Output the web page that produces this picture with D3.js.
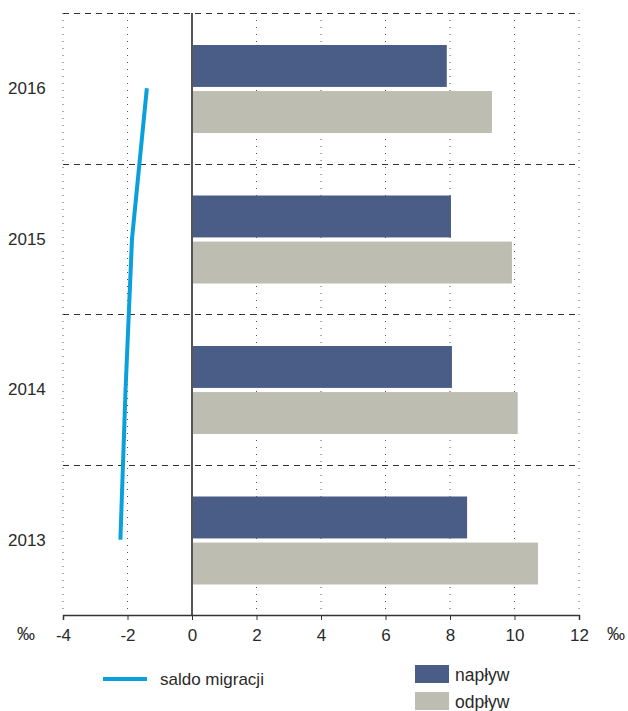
<!DOCTYPE html>
<html><head><meta charset="utf-8">
<script src="https://cdn.jsdelivr.net/npm/d3@7"></script>
<style>body{margin:0;background:#fff}svg{display:block;font-family:"Liberation Sans",Arial,sans-serif}</style>
</head><body><svg id="c" width="628" height="711"></svg>
<script>
const years = ["2016","2015","2014","2013"];
const naplyw = [7.9, 8.03, 8.06, 8.53];
const odplyw = [9.3, 9.92, 10.1, 10.73];
const saldo = [-1.4, -1.86, -2.06, -2.22];
const xTicks = [-4,-2,0,2,4,6,8,10,12];
const seriesNames = ["napływ","odpływ"];
const colors = {"napływ":"#4a5d87","odpływ":"#bdbdb2"};

const svg = d3.select("#c");
const x = d3.scaleLinear().domain([-4,12]).range([63,579]);
const y = d3.scaleBand().domain(years).range([13,615]).paddingInner(0);
const ys = d3.scaleBand().domain(seriesNames).range([32,120]).paddingInner(0.09);

svg.append("g").selectAll("line").data(xTicks.filter(d=>d!==0)).join("line")
  .attr("x1",d=>x(d)).attr("x2",d=>x(d)).attr("y1",13).attr("y2",615)
  .attr("stroke","#555").attr("stroke-width",1).attr("stroke-dasharray","1,6");

svg.append("g").selectAll("line").data(years).join("line")
  .attr("x1",x(-4)).attr("x2",x(12)).attr("y1",d=>Math.round(y(d))+0.5).attr("y2",d=>Math.round(y(d))+0.5)
  .attr("stroke","#333").attr("stroke-width",1).attr("stroke-dasharray","6,5");

const rows = years.map((yr,i)=>({yr, vals:[{k:"napływ",v:naplyw[i]},{k:"odpływ",v:odplyw[i]}]}));
const g = svg.append("g");
rows.forEach(r=>{
  g.selectAll(null).data(r.vals).join("rect")
    .attr("x",x(0)).attr("y",d=>y(r.yr)+ys(d.k)).attr("height",ys.bandwidth())
    .attr("width",d=>x(d.v)-x(0)).attr("fill",d=>colors[d.k]);
});

svg.append("line").attr("x1",x(0)).attr("x2",x(0)).attr("y1",13).attr("y2",615)
  .attr("stroke","#555").attr("stroke-width",2);

const line = d3.line().x(d=>x(d.v)).y(d=>y(d.yr)+y.bandwidth()/2);
svg.append("path").datum(years.map((yr,i)=>({yr,v:saldo[i]})))
  .attr("d",line).attr("fill","none").attr("stroke","#0aa0dc").attr("stroke-width",4);

const ax = svg.append("g").attr("transform","translate(0,615)")
  .call(d3.axisBottom(x).tickValues(xTicks).tickSize(5).tickFormat(d3.format("d")));
ax.select(".domain").attr("stroke","#333").attr("stroke-width",1.5);
ax.selectAll(".tick line").attr("stroke","#333");
ax.selectAll(".tick text").attr("font-size",17).attr("fill","#2a2a2a").attr("dy","0.35em").attr("y",20)
  .attr("font-family","Liberation Sans, Arial, sans-serif").text(d=>d<0?"-"+Math.abs(d):d);

svg.append("text").attr("x",17).attr("y",634).attr("dy","0.35em").attr("font-size",18).attr("fill","#2a2a2a").text("‰");
svg.append("text").attr("x",607).attr("y",634).attr("dy","0.35em").attr("font-size",18).attr("fill","#2a2a2a").text("‰");

svg.append("g").selectAll("text").data(years).join("text")
  .attr("x",8).attr("y",d=>y(d)+y.bandwidth()/2).attr("dy","0.35em")
  .attr("font-size",17).attr("fill","#2a2a2a").text(d=>d);

svg.append("line").attr("x1",103).attr("x2",147).attr("y1",679).attr("y2",679)
  .attr("stroke","#0aa0dc").attr("stroke-width",4);
svg.append("text").attr("x",160).attr("y",679).attr("dy","0.35em").attr("font-size",17).attr("fill","#2a2a2a").text("saldo migracji");
const lg = svg.append("g").selectAll("g").data(seriesNames).join("g")
  .attr("transform",(d,i)=>`translate(415,${665+i*27})`);
lg.append("rect").attr("width",34).attr("height",18).attr("fill",d=>colors[d]);
lg.append("text").attr("x",40).attr("y",10).attr("dy","0.35em").attr("font-size",17.5).attr("fill","#2a2a2a").text(d=>d);
</script></body></html>
